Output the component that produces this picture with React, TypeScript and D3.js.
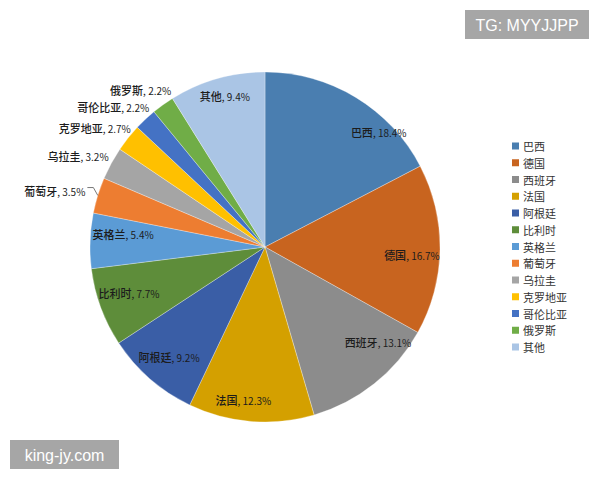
import * as d3 from 'd3';
import React from 'react';

// share of goals by country (labels as printed, pie is normalised)
const countries = ['巴西', '德国', '西班牙', '法国', '阿根廷', '比利时', '英格兰', '葡萄牙', '乌拉圭', '克罗地亚', '哥伦比亚', '俄罗斯', '其他'];
const shares = [18.4, 16.7, 13.1, 12.3, 9.2, 7.7, 5.4, 3.5, 3.2, 2.7, 2.2, 2.2, 9.4];
const colors = ['#4A7EB0', '#C8641F', '#8C8C8C', '#D4A000', '#3A5EA6', '#5E8D3A', '#5B9BD5', '#ED7D31', '#A5A5A5', '#FFC000', '#4472C4', '#70AD47', '#AAC5E5'];
const leaderLabels = ['葡萄牙'];

// "best fit" label tweaks, in px from the computed spot
const labelNudge: Record<string, [number, number]> = {
  巴西: [38, 10],
  德国: [1, 6],
  西班牙: [22, -19],
  法国: [-10, 7],
  比利时: [1, -4],
  英格兰: [4, -8],
  其他: [0, -11],
  俄罗斯: [10, -6],
  哥伦比亚: [6, -4],
  克罗地亚: [5, -2],
};

type Slice = { name: string; value: number };

const W = 600;
const H = 480;
const cx = 265;
const cy = 247;
const R = 175;
const FONT = '"Noto Sans CJK SC", "Noto Sans", sans-serif';

const App: React.FC = () => {
  const data: Slice[] = countries.map((name, i) => ({ name, value: shares[i] }));
  const color = d3.scaleOrdinal<string, string>().domain(countries).range(colors);

  const pie = d3.pie<Slice>().value((d) => d.value).sort(null);
  const arcs = pie(data);
  const arc = d3.arc<d3.PieArcDatum<Slice>>().innerRadius(0).outerRadius(R);
  const inLabel = d3.arc<d3.PieArcDatum<Slice>>().innerRadius(146).outerRadius(146);
  const outLabel = d3.arc<d3.PieArcDatum<Slice>>().innerRadius(178).outerRadius(178);
  const leadLabel = d3.arc<d3.PieArcDatum<Slice>>().innerRadius(188).outerRadius(188);
  const edge = d3.arc<d3.PieArcDatum<Slice>>().innerRadius(R).outerRadius(R);

  const legendY = d3.scalePoint<string>().domain(countries).range([146, 347]);

  return (
    <svg width={W} height={H} style={{ position: 'absolute', left: 0, top: 0, background: '#fff' }}>
      <g transform={`translate(${cx},${cy})`}>
        {arcs.map((a) => (
          <path key={a.data.name} d={arc(a) ?? ''} fill={color(a.data.name)} stroke="#fff" strokeOpacity={0.5} strokeWidth={0.6} />
        ))}
        {arcs.map((a) => {
          const [nx, ny] = labelNudge[a.data.name] ?? [0, 0];
          const label = (
            <>
              <tspan fontWeight={500}>{a.data.name}</tspan>
              <tspan fontSize={10}>, {a.data.value.toFixed(1)}%</tspan>
            </>
          );
          if (a.data.value >= 5) {
            const [x, y] = inLabel.centroid(a);
            return (
              <text key={a.data.name} x={x + nx} y={y + ny} textAnchor="middle" dominantBaseline="central" fontSize={11} fontFamily={FONT} fill="#1c1c1c">
                {label}
              </text>
            );
          }
          if (leaderLabels.includes(a.data.name)) {
            const [x, y] = leadLabel.centroid(a);
            const [ex, ey] = edge.centroid(a);
            return (
              <g key={a.data.name}>
                <text x={x} y={y - 1} textAnchor="end" dominantBaseline="central" fontSize={11} fontFamily={FONT} fill="#1c1c1c">
                  {label}
                </text>
                <polyline points={`${x + 2},${y - 4} ${x + 8},${y - 4} ${ex},${ey}`} fill="none" stroke="#555" strokeWidth={0.8} />
              </g>
            );
          }
          const [x, y] = outLabel.centroid(a);
          return (
            <text key={a.data.name} x={x + nx} y={y - 6 + ny} textAnchor="end" dominantBaseline="central" fontSize={11} fontFamily={FONT} fill="#1c1c1c">
              {label}
            </text>
          );
        })}
      </g>

      {/* legend */}
      <g>
        {countries.map((c) => (
          <g key={c} transform={`translate(512,${legendY(c)})`}>
            <rect x={0} y={-3.5} width={7} height={7} fill={color(c)} />
            <text x={11} y={0} dominantBaseline="central" fontSize={11} fontFamily={FONT} fill="#333">
              {c}
            </text>
          </g>
        ))}
      </g>

      {/* watermarks */}
      <rect x={465} y={10} width={124} height={29} fill="#A6A6A6" />
      <text x={527} y={25} textAnchor="middle" dominantBaseline="central" fontSize={16} fontFamily='"Liberation Sans", Arial, sans-serif' fill="#fff">
        TG: MYYJJPP
      </text>
      <rect x={10} y={440} width={109} height={29} fill="#A6A6A6" />
      <text x={64.5} y={455} textAnchor="middle" dominantBaseline="central" fontSize={16} fontFamily='"Liberation Sans", Arial, sans-serif' fill="#fff">
        king-jy.com
      </text>
    </svg>
  );
};

export default App;
